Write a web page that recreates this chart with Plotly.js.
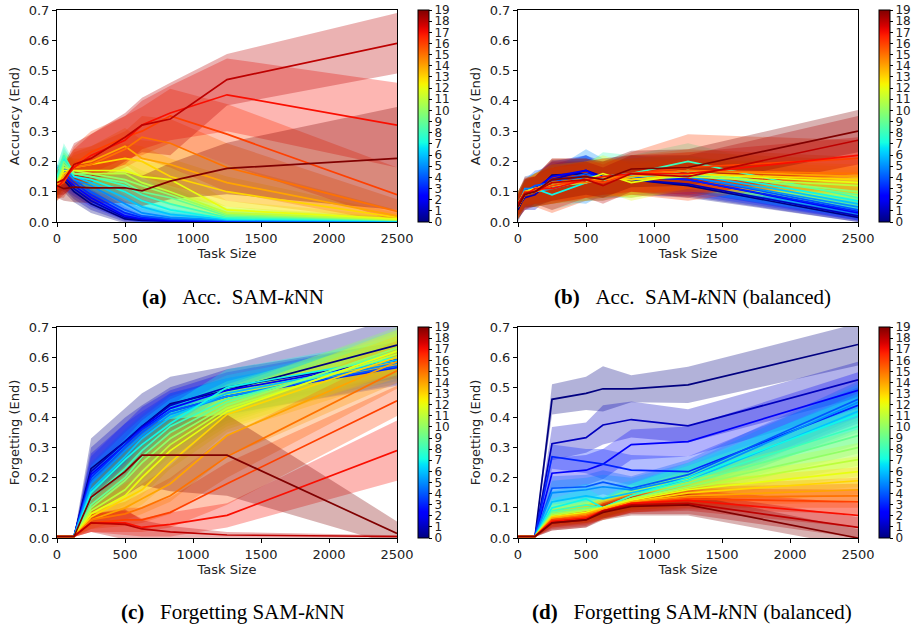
<!DOCTYPE html>
<html>
<head>
<meta charset="utf-8">
<script src="https://cdn.plot.ly/plotly-3.0.1.min.js"></script>
<style>html,body{margin:0;padding:0;background:#fff;}#chart{width:916px;height:624px;}</style>
</head>
<body>
<div id="chart"></div>
<script>
// ---------- DATA ----------
const taskSize = [0, 50, 125, 250, 500, 625, 833, 1250, 2500];
const classIds = [0,1,2,3,4,5,6,7,8,9,10,11,12,13,14,15,16,17,18,19];
const colorbarTicks = classIds;

// (a) Accuracy, SAM-kNN
const accMean = [
 [0.15,0.14,0.10,0.06,0.010,0.005,0.003,0.002,0.001],
 [0.14,0.15,0.11,0.07,0.015,0.008,0.004,0.002,0.001],
 [0.13,0.15,0.12,0.08,0.020,0.010,0.005,0.003,0.002],
 [0.14,0.16,0.13,0.09,0.030,0.015,0.008,0.004,0.002],
 [0.13,0.17,0.14,0.10,0.040,0.020,0.010,0.005,0.003],
 [0.14,0.18,0.14,0.12,0.060,0.030,0.015,0.006,0.003],
 [0.13,0.19,0.15,0.13,0.080,0.050,0.025,0.008,0.004],
 [0.15,0.21,0.15,0.14,0.100,0.070,0.040,0.010,0.005],
 [0.14,0.22,0.16,0.15,0.120,0.090,0.060,0.015,0.005],
 [0.13,0.20,0.16,0.15,0.130,0.100,0.080,0.020,0.006],
 [0.12,0.19,0.16,0.16,0.140,0.120,0.090,0.025,0.007],
 [0.13,0.18,0.17,0.16,0.160,0.130,0.100,0.030,0.008],
 [0.12,0.17,0.17,0.17,0.170,0.150,0.140,0.040,0.010],
 [0.11,0.16,0.18,0.19,0.210,0.200,0.150,0.100,0.015],
 [0.12,0.15,0.19,0.20,0.250,0.210,0.190,0.130,0.020],
 [0.11,0.14,0.18,0.19,0.240,0.280,0.260,0.180,0.035],
 [0.12,0.13,0.19,0.23,0.280,0.300,0.350,0.290,0.090],
 [0.11,0.14,0.18,0.22,0.270,0.320,0.360,0.420,0.320],
 [0.13,0.14,0.19,0.21,0.280,0.320,0.340,0.470,0.590],
 [0.12,0.11,0.115,0.113,0.113,0.103,0.135,0.177,0.210]
];
const accStd = [
 [0.04,0.04,0.035,0.03,0.015,0.01,0.005,0.003,0.002],
 [0.04,0.04,0.035,0.03,0.015,0.01,0.005,0.003,0.002],
 [0.04,0.04,0.035,0.03,0.015,0.01,0.005,0.003,0.002],
 [0.04,0.04,0.035,0.03,0.02,0.01,0.006,0.003,0.002],
 [0.04,0.04,0.04,0.035,0.03,0.025,0.02,0.01,0.005],
 [0.04,0.04,0.04,0.035,0.03,0.025,0.02,0.01,0.005],
 [0.04,0.04,0.04,0.035,0.03,0.025,0.02,0.01,0.005],
 [0.04,0.04,0.04,0.035,0.03,0.03,0.02,0.01,0.005],
 [0.04,0.04,0.04,0.04,0.04,0.04,0.035,0.02,0.01],
 [0.04,0.04,0.04,0.04,0.04,0.04,0.035,0.02,0.01],
 [0.04,0.04,0.04,0.04,0.04,0.04,0.035,0.02,0.01],
 [0.04,0.04,0.04,0.04,0.04,0.04,0.04,0.02,0.01],
 [0.04,0.04,0.04,0.04,0.05,0.05,0.05,0.03,0.01],
 [0.04,0.04,0.04,0.05,0.05,0.05,0.06,0.05,0.015],
 [0.04,0.04,0.05,0.05,0.06,0.06,0.07,0.06,0.02],
 [0.04,0.04,0.05,0.06,0.06,0.07,0.08,0.08,0.04],
 [0.04,0.05,0.06,0.07,0.07,0.08,0.09,0.10,0.09],
 [0.04,0.05,0.06,0.07,0.08,0.08,0.09,0.12,0.14],
 [0.04,0.05,0.07,0.08,0.08,0.09,0.12,0.085,0.10],
 [0.04,0.04,0.05,0.05,0.05,0.05,0.06,0.085,0.17]
];

// (b) Accuracy, SAM-kNN (balanced)
const accBalMean = [
 [0.04,0.09,0.10,0.155,0.16,0.15,0.14,0.12,0.015],
 [0.05,0.08,0.09,0.14,0.17,0.15,0.14,0.125,0.02],
 [0.06,0.10,0.11,0.15,0.17,0.14,0.15,0.14,0.03],
 [0.05,0.09,0.10,0.14,0.15,0.15,0.15,0.14,0.035],
 [0.06,0.10,0.12,0.13,0.16,0.14,0.15,0.15,0.04],
 [0.05,0.11,0.11,0.12,0.15,0.15,0.16,0.15,0.05],
 [0.06,0.10,0.10,0.11,0.14,0.14,0.15,0.16,0.06],
 [0.05,0.09,0.11,0.09,0.13,0.14,0.15,0.17,0.07],
 [0.06,0.10,0.11,0.12,0.13,0.15,0.16,0.20,0.08],
 [0.05,0.09,0.10,0.12,0.14,0.15,0.15,0.17,0.09],
 [0.06,0.10,0.11,0.13,0.14,0.14,0.15,0.16,0.10],
 [0.05,0.09,0.10,0.12,0.13,0.15,0.14,0.15,0.12],
 [0.06,0.10,0.11,0.12,0.14,0.16,0.13,0.16,0.13],
 [0.05,0.09,0.11,0.13,0.14,0.15,0.14,0.16,0.14],
 [0.06,0.10,0.10,0.12,0.14,0.14,0.15,0.17,0.15],
 [0.05,0.09,0.11,0.13,0.13,0.14,0.16,0.17,0.16],
 [0.06,0.10,0.10,0.12,0.14,0.13,0.16,0.18,0.21],
 [0.05,0.09,0.11,0.11,0.14,0.15,0.16,0.16,0.22],
 [0.06,0.095,0.10,0.13,0.14,0.12,0.16,0.15,0.27],
 [0.05,0.09,0.10,0.14,0.15,0.14,0.175,0.18,0.30]
];
const accBalStd = [
 [0.04,0.04,0.05,0.05,0.05,0.05,0.05,0.04,0.015],
 [0.04,0.04,0.05,0.05,0.05,0.05,0.05,0.04,0.02],
 [0.04,0.04,0.05,0.05,0.05,0.05,0.05,0.04,0.025],
 [0.04,0.04,0.05,0.05,0.05,0.05,0.05,0.05,0.03],
 [0.04,0.04,0.05,0.05,0.06,0.05,0.05,0.05,0.03],
 [0.04,0.04,0.05,0.05,0.09,0.06,0.06,0.05,0.035],
 [0.04,0.04,0.05,0.05,0.06,0.06,0.07,0.05,0.04],
 [0.04,0.04,0.05,0.05,0.06,0.06,0.06,0.05,0.04],
 [0.04,0.04,0.05,0.06,0.06,0.08,0.06,0.06,0.045],
 [0.04,0.04,0.05,0.06,0.06,0.06,0.06,0.05,0.045],
 [0.04,0.04,0.05,0.06,0.06,0.06,0.06,0.05,0.05],
 [0.04,0.04,0.05,0.06,0.06,0.06,0.06,0.05,0.05],
 [0.04,0.04,0.05,0.06,0.06,0.06,0.06,0.05,0.05],
 [0.04,0.04,0.05,0.06,0.06,0.06,0.06,0.05,0.05],
 [0.04,0.04,0.05,0.06,0.06,0.06,0.06,0.06,0.055],
 [0.04,0.04,0.05,0.06,0.06,0.06,0.06,0.07,0.055],
 [0.04,0.05,0.05,0.09,0.07,0.06,0.07,0.11,0.06],
 [0.04,0.05,0.05,0.07,0.06,0.06,0.06,0.07,0.06],
 [0.04,0.05,0.05,0.07,0.06,0.06,0.06,0.07,0.08],
 [0.04,0.05,0.05,0.07,0.06,0.06,0.06,0.06,0.07]
];

// (c) Forgetting, SAM-kNN
const fgtMean = [
 [0.005,0.005,0.005,0.23,0.32,0.37,0.445,0.49,0.64],
 [0.005,0.005,0.005,0.22,0.32,0.37,0.44,0.50,0.59],
 [0.005,0.005,0.005,0.21,0.31,0.365,0.43,0.49,0.59],
 [0.005,0.005,0.005,0.20,0.31,0.36,0.42,0.47,0.565],
 [0.005,0.005,0.005,0.19,0.30,0.35,0.42,0.47,0.57],
 [0.005,0.005,0.005,0.18,0.29,0.34,0.41,0.47,0.58],
 [0.005,0.005,0.005,0.16,0.27,0.33,0.40,0.48,0.59],
 [0.005,0.005,0.005,0.15,0.26,0.31,0.38,0.50,0.60],
 [0.005,0.005,0.005,0.13,0.23,0.29,0.37,0.46,0.60],
 [0.005,0.005,0.005,0.11,0.20,0.27,0.35,0.45,0.62],
 [0.005,0.005,0.005,0.10,0.19,0.25,0.33,0.44,0.63],
 [0.005,0.005,0.005,0.09,0.16,0.22,0.31,0.43,0.61],
 [0.005,0.005,0.005,0.08,0.14,0.20,0.29,0.42,0.62],
 [0.005,0.005,0.005,0.07,0.13,0.16,0.25,0.41,0.60],
 [0.005,0.005,0.005,0.06,0.10,0.13,0.18,0.34,0.585],
 [0.005,0.005,0.005,0.06,0.08,0.10,0.14,0.27,0.555],
 [0.005,0.005,0.005,0.05,0.06,0.06,0.085,0.18,0.455],
 [0.005,0.005,0.005,0.05,0.05,0.035,0.045,0.075,0.29],
 [0.005,0.005,0.005,0.05,0.045,0.03,0.02,0.01,0.005],
 [0.005,0.005,0.005,0.135,0.22,0.275,0.275,0.275,0.015]
];
const fgtStd = [
 [0.002,0.002,0.002,0.10,0.11,0.11,0.09,0.08,0.09],
 [0.002,0.002,0.002,0.08,0.08,0.07,0.06,0.06,0.06],
 [0.002,0.002,0.002,0.07,0.07,0.07,0.06,0.06,0.06],
 [0.002,0.002,0.002,0.07,0.07,0.06,0.06,0.06,0.06],
 [0.002,0.002,0.002,0.06,0.06,0.06,0.06,0.06,0.06],
 [0.002,0.002,0.002,0.06,0.06,0.06,0.06,0.06,0.06],
 [0.002,0.002,0.002,0.05,0.06,0.06,0.06,0.06,0.06],
 [0.002,0.002,0.002,0.05,0.06,0.06,0.06,0.06,0.06],
 [0.002,0.002,0.002,0.05,0.06,0.06,0.06,0.06,0.06],
 [0.002,0.002,0.002,0.04,0.05,0.06,0.06,0.06,0.07],
 [0.002,0.002,0.002,0.04,0.05,0.06,0.06,0.06,0.07],
 [0.002,0.002,0.002,0.04,0.05,0.06,0.06,0.06,0.07],
 [0.002,0.002,0.002,0.03,0.05,0.06,0.06,0.06,0.07],
 [0.002,0.002,0.002,0.03,0.05,0.05,0.06,0.06,0.07],
 [0.002,0.002,0.002,0.03,0.04,0.05,0.06,0.07,0.07],
 [0.002,0.002,0.002,0.03,0.04,0.05,0.06,0.07,0.06],
 [0.002,0.002,0.002,0.03,0.04,0.04,0.05,0.07,0.05],
 [0.002,0.002,0.002,0.03,0.04,0.03,0.04,0.04,0.10],
 [0.002,0.002,0.002,0.03,0.05,0.03,0.02,0.01,0.004],
 [0.002,0.002,0.002,0.05,0.08,0.10,0.12,0.135,0.04]
];

// (d) Forgetting, SAM-kNN (balanced)
const fgtBalMean = [
 [0.005,0.005,0.005,0.46,0.48,0.495,0.495,0.508,0.642],
 [0.005,0.005,0.005,0.313,0.333,0.375,0.393,0.372,0.525],
 [0.005,0.005,0.005,0.215,0.225,0.245,0.31,0.32,0.49],
 [0.005,0.005,0.005,0.27,0.255,0.245,0.225,0.22,0.44],
 [0.005,0.005,0.005,0.165,0.17,0.185,0.165,0.21,0.46],
 [0.005,0.005,0.005,0.15,0.16,0.17,0.16,0.20,0.45],
 [0.005,0.005,0.005,0.12,0.14,0.13,0.15,0.19,0.42],
 [0.005,0.005,0.005,0.10,0.13,0.10,0.14,0.20,0.41],
 [0.005,0.005,0.005,0.09,0.11,0.10,0.14,0.19,0.37],
 [0.005,0.005,0.005,0.085,0.10,0.10,0.13,0.18,0.34],
 [0.005,0.005,0.005,0.08,0.095,0.10,0.13,0.17,0.30],
 [0.005,0.005,0.005,0.075,0.09,0.10,0.13,0.165,0.26],
 [0.005,0.005,0.005,0.07,0.085,0.10,0.125,0.16,0.22],
 [0.005,0.005,0.005,0.07,0.08,0.10,0.12,0.15,0.19],
 [0.005,0.005,0.005,0.065,0.08,0.095,0.12,0.14,0.16],
 [0.005,0.005,0.005,0.06,0.075,0.09,0.115,0.135,0.14],
 [0.005,0.005,0.005,0.06,0.07,0.09,0.115,0.13,0.12],
 [0.005,0.005,0.005,0.055,0.065,0.09,0.115,0.125,0.075],
 [0.005,0.005,0.005,0.05,0.06,0.09,0.11,0.115,0.035],
 [0.005,0.005,0.005,0.05,0.06,0.085,0.105,0.11,0.0]
];
const fgtBalStd = [
 [0.002,0.002,0.002,0.05,0.055,0.075,0.045,0.06,0.07],
 [0.002,0.002,0.002,0.055,0.05,0.065,0.06,0.055,0.06],
 [0.002,0.002,0.002,0.05,0.05,0.05,0.05,0.05,0.06],
 [0.002,0.002,0.002,0.04,0.04,0.05,0.05,0.05,0.06],
 [0.002,0.002,0.002,0.04,0.04,0.04,0.04,0.05,0.06],
 [0.002,0.002,0.002,0.04,0.04,0.04,0.04,0.05,0.06],
 [0.002,0.002,0.002,0.035,0.04,0.04,0.04,0.05,0.06],
 [0.002,0.002,0.002,0.03,0.035,0.035,0.04,0.05,0.06],
 [0.002,0.002,0.002,0.03,0.03,0.035,0.04,0.05,0.06],
 [0.002,0.002,0.002,0.03,0.03,0.03,0.035,0.045,0.06],
 [0.002,0.002,0.002,0.03,0.03,0.03,0.035,0.045,0.06],
 [0.002,0.002,0.002,0.025,0.03,0.03,0.035,0.04,0.055],
 [0.002,0.002,0.002,0.025,0.03,0.03,0.03,0.04,0.05],
 [0.002,0.002,0.002,0.025,0.03,0.03,0.03,0.04,0.045],
 [0.002,0.002,0.002,0.025,0.03,0.03,0.03,0.035,0.04],
 [0.002,0.002,0.002,0.025,0.025,0.03,0.03,0.035,0.04],
 [0.002,0.002,0.002,0.025,0.025,0.03,0.03,0.035,0.04],
 [0.002,0.002,0.002,0.025,0.025,0.025,0.03,0.035,0.04],
 [0.002,0.002,0.002,0.025,0.025,0.025,0.03,0.035,0.035],
 [0.002,0.002,0.002,0.025,0.025,0.025,0.03,0.035,0.03]
];

const panelCaptions = [
 '<b>(a)</b>&nbsp;&nbsp;&nbsp;Acc.&nbsp;&nbsp;SAM-<i>k</i>NN',
 '<b>(b)</b>&nbsp;&nbsp;&nbsp;Acc.&nbsp;&nbsp;SAM-<i>k</i>NN (balanced)',
 '<b>(c)</b>&nbsp;&nbsp;&nbsp;Forgetting SAM-<i>k</i>NN',
 '<b>(d)</b>&nbsp;&nbsp;&nbsp;Forgetting SAM-<i>k</i>NN (balanced)'
];
const yTitles = ['Accuracy (End)', 'Accuracy (End)', 'Forgetting (End)', 'Forgetting (End)'];
const xTitle = 'Task Size';

// ---------- STYLE HELPERS ----------
function jet(t){
  const seg = {
    r:[[0,0],[0.35,0],[0.66,1],[0.89,1],[1,0.5]],
    g:[[0,0],[0.125,0],[0.375,1],[0.64,1],[0.91,0],[1,0]],
    b:[[0,0.5],[0.11,1],[0.34,1],[0.65,0],[1,0]]
  };
  function f(s){
    for(let i=1;i<s.length;i++){
      if(t<=s[i][0]){
        const a=s[i-1], c=s[i];
        return a[1]+(c[1]-a[1])*(t-a[0])/(c[0]-a[0]);
      }
    }
    return s[s.length-1][1];
  }
  return [f(seg.r),f(seg.g),f(seg.b)].map(v=>Math.round(v*255));
}
function rgba(c,a){return 'rgba('+c[0]+','+c[1]+','+c[2]+','+a+')';}
const jetScale = [];
for(let k=0;k<=40;k++){const t=k/40; jetScale.push([t, rgba(jet(t),1)]);}

const W=916, H=624;
const px = v => v/W, py = v => 1 - v/H;
const plotBoxes = [
  {x0:57, x1:397, y0:10, y1:222, cbx:418},
  {x0:518, x1:858, y0:10, y1:222, cbx:879},
  {x0:57, x1:397, y0:327, y1:538, cbx:418},
  {x0:518, x1:858, y0:327, y1:538, cbx:879}
];
const captionPos = [[233,297],[692,297],[233,612],[692,612]];

const panels = [[accMean,accStd],[accBalMean,accBalStd],[fgtMean,fgtStd],[fgtBalMean,fgtBalStd]];
const FS = 13;

const traces = [];
const layout = {
  width:W, height:H, margin:{l:0,r:0,t:0,b:0},
  paper_bgcolor:'#fff', plot_bgcolor:'#fff', showlegend:false,
  font:{family:'DejaVu Sans', size:FS, color:'#222'},
  annotations:[]
};

panels.forEach((p, pi) => {
  const [means, stds] = p;
  const sfx = pi===0 ? '' : String(pi+1);
  const xa = 'x'+sfx, ya = 'y'+sfx;
  const box = plotBoxes[pi];
  // bands first (matplotlib draws fills below lines)
  classIds.forEach(ci => {
    const c = jet(ci/19);
    const m = means[ci], s = stds[ci];
    const up = m.map((v,k)=>v+s[k]);
    const lo = m.map((v,k)=>v-s[k]);
    traces.push({
      type:'scatter', mode:'lines', xaxis:xa, yaxis:ya,
      x: taskSize.concat(taskSize.slice().reverse()),
      y: up.concat(lo.slice().reverse()),
      fill:'toself', fillcolor: rgba(c,0.3), line:{width:0}, hoverinfo:'skip'
    });
  });
  classIds.forEach(ci => {
    const c = jet(ci/19);
    traces.push({
      type:'scatter', mode:'lines', xaxis:xa, yaxis:ya,
      x: taskSize, y: means[ci], name: String(ci),
      line:{color: rgba(c,1), width:1.7}
    });
  });
  // colorbar via coloraxis
  const cax = 'coloraxis'+(pi===0?'':String(pi+1));
  traces.push({type:'scatter', mode:'markers', xaxis:xa, yaxis:ya, x:[null], y:[null],
    marker:{color:[0], coloraxis:cax}, hoverinfo:'skip'});
  layout[cax] = {
    cmin:0, cmax:19, colorscale: jetScale,
    colorbar:{
      x: px(box.cbx), xanchor:'left', y: py(box.y1), yanchor:'bottom',
      len: (box.y1-box.y0)/H, lenmode:'fraction', thickness:11, thicknessmode:'pixels',
      xpad:0, ypad:0, outlinewidth:1, outlinecolor:'#000',
      tickmode:'array', tickvals: colorbarTicks, ticktext: colorbarTicks.map(String),
      ticks:'outside', ticklen:3, tickwidth:1, tickcolor:'#000',
      tickfont:{family:'DejaVu Sans', size:12, color:'#222'}
    }
  };
  const axCommon = {
    showgrid:false, zeroline:false, showline:true, mirror:true, linecolor:'#000', linewidth:1,
    ticks:'outside', ticklen:4, tickwidth:1, tickcolor:'#000',
    tickfont:{family:'DejaVu Sans', size:FS, color:'#222'}
  };
  layout['xaxis'+sfx] = Object.assign({}, axCommon, {
    domain:[px(box.x0), px(box.x1)], anchor: ya, range:[0,2500], dtick:500, tick0:0,
    title:{text:xTitle, font:{family:'DejaVu Sans', size:FS, color:'#222'}, standoff:3}
  });
  layout['yaxis'+sfx] = Object.assign({}, axCommon, {
    domain:[py(box.y1), py(box.y0)], anchor: xa, range:[0,0.7], dtick:0.1, tick0:0, tickformat:'.1f',
    title:{text:yTitles[pi], font:{family:'DejaVu Sans', size:FS, color:'#222'}, standoff:6}
  });
  layout.annotations.push({
    xref:'paper', yref:'paper', x: px(captionPos[pi][0]), y: py(captionPos[pi][1]),
    xanchor:'center', yanchor:'middle', showarrow:false, text: panelCaptions[pi],
    font:{family:'Liberation Serif', size:21, color:'#000'}
  });
});

Plotly.newPlot('chart', traces, layout, {displayModeBar:false, staticPlot:true});
</script>
</body>
</html>
